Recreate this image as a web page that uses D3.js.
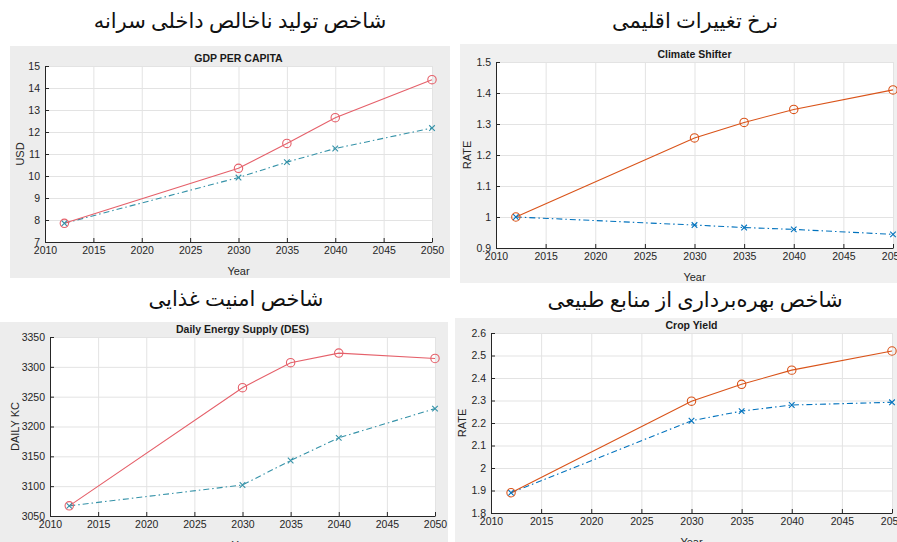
<!DOCTYPE html>
<html>
<head>
<meta charset="utf-8">
<script src="https://cdn.jsdelivr.net/npm/d3@7"></script>
<style>
  body { margin: 0; background: #fff; }
  svg { display: block; }
</style>
</head>
<body>
<div id="chart"></div>
<script>
// years with data points
const years = [2012, 2030, 2035, 2040, 2050];
const xTicks = [2010, 2015, 2020, 2025, 2030, 2035, 2040, 2045, 2050];

// GDP per capita
const gdpHigh = [7.85, 10.35, 11.48, 12.65, 14.38];
const gdpBase = [7.85, 9.93, 10.63, 11.25, 12.18];
const gdpTicks = [7, 8, 9, 10, 11, 12, 13, 14, 15];

// climate shifter
const climHigh = [1.0, 1.255, 1.305, 1.347, 1.41];
const climBase = [1.0, 0.974, 0.966, 0.96, 0.944];
const climTicks = [0.9, 1.0, 1.1, 1.2, 1.3, 1.4, 1.5];

// daily energy supply
const desHigh = [3067, 3265, 3307, 3323, 3314];
const desBase = [3067, 3102, 3143, 3181, 3230];
const desTicks = [3050, 3100, 3150, 3200, 3250, 3300, 3350];

// crop yield
const cropHigh = [1.89, 2.297, 2.372, 2.435, 2.52];
const cropBase = [1.89, 2.21, 2.253, 2.28, 2.292];
const cropTicks = [1.8, 1.9, 2.0, 2.1, 2.2, 2.3, 2.4, 2.5, 2.6];

const faTitles = [
  "شاخص تولید ناخالص داخلی سرانه",
  "نرخ تغییرات اقلیمی",
  "شاخص امنیت غذایی",
  "شاخص بهره‌برداری از منابع طبیعی"
];

const W = 897, H = 542;
const svg = d3.select('#chart').append('svg')
  .attr('width', W).attr('height', H);

const fontEn = "Liberation Sans, Arial, sans-serif";
const fontFa = "'Liberation Serif', 'DejaVu Serif', 'DejaVu Sans', serif";

const panels = [
  {bg: [10, 46, 440, 232], x0: 45, x1: 432, yTop: 66, yBot: 242,
   title: "GDP PER CAPITA", ylab: "USD", labX: 20,
   high: gdpHigh, base: gdpBase, ticks: gdpTicks, bgc: '#ededed',
   red: '#e5606a', blue: '#3592a8', fa: faTitles[0], faX: 240, faY: 28},
  {bg: [460, 44, 437, 239], x0: 496, x1: 893, yTop: 62, yBot: 248,
   title: "Climate Shifter", ylab: "RATE", labX: 467,
   high: climHigh, base: climBase, ticks: climTicks, bgc: '#f0f0f0',
   red: '#D95319', blue: '#0072BD', fa: faTitles[1], faX: 695, faY: 28},
  {bg: [0, 322, 448, 220], x0: 50, x1: 435, yTop: 337, yBot: 516,
   title: "Daily Energy Supply (DES)", ylab: "DAILY KC", labX: 15,
   high: desHigh, base: desBase, ticks: desTicks, bgc: '#ededed',
   red: '#e5606a', blue: '#3592a8', fa: faTitles[2], faX: 236, faY: 306},
  {bg: [455, 318, 442, 224], x0: 491, x1: 892, yTop: 333, yBot: 513,
   title: "Crop Yield", ylab: "RATE", labX: 462,
   high: cropHigh, base: cropBase, ticks: cropTicks, bgc: '#f0f0f0',
   red: '#D95319', blue: '#0072BD', fa: faTitles[3], faX: 695, faY: 307}
];

panels.forEach(drawPanel);

function drawPanel(p) {
  const g = svg.append('g');

  // persian heading
  svg.append('text')
    .attr('x', p.faX).attr('y', p.faY)
    .attr('text-anchor', 'middle')
    .attr('direction', 'rtl')
    .style('font-family', fontFa)
    .style('font-size', '21px')
    .attr('fill', '#111')
    .text(p.fa);

  g.append('rect')
    .attr('x', p.bg[0]).attr('y', p.bg[1])
    .attr('width', p.bg[2]).attr('height', p.bg[3])
    .attr('fill', p.bgc);

  const x = d3.scaleLinear().domain([2010, 2050]).range([p.x0, p.x1]);
  const y = d3.scaleLinear()
    .domain([p.ticks[0], p.ticks[p.ticks.length - 1]])
    .range([p.yBot, p.yTop]);

  g.append('rect')
    .attr('x', p.x0).attr('y', p.yTop)
    .attr('width', p.x1 - p.x0).attr('height', p.yBot - p.yTop)
    .attr('fill', '#fff');

  // grid
  g.append('g')
    .attr('transform', `translate(0,${p.yBot})`)
    .call(d3.axisBottom(x).tickValues(xTicks).tickSize(-(p.yBot - p.yTop)).tickFormat(''))
    .call(a => a.select('.domain').remove())
    .call(a => a.selectAll('line').attr('stroke', '#e3e3e3'));
  g.append('g')
    .attr('transform', `translate(${p.x0},0)`)
    .call(d3.axisLeft(y).tickValues(p.ticks).tickSize(-(p.x1 - p.x0)).tickFormat(''))
    .call(a => a.select('.domain').remove())
    .call(a => a.selectAll('line').attr('stroke', '#e3e3e3'));

  // axes, ticks pointing inward like matlab
  const fmt = d3.format('~g');
  const xa = g.append('g')
    .attr('transform', `translate(0,${p.yBot})`)
    .call(d3.axisBottom(x).tickValues(xTicks).tickSize(-4).tickPadding(5).tickSizeOuter(0).tickFormat(d3.format('d')));
  const ya = g.append('g')
    .attr('transform', `translate(${p.x0},0)`)
    .call(d3.axisLeft(y).tickValues(p.ticks).tickSize(-4).tickPadding(5).tickSizeOuter(0).tickFormat(fmt));
  [xa, ya].forEach(a => {
    a.select('.domain').attr('stroke', '#262626');
    a.selectAll('line').attr('stroke', '#262626');
    a.selectAll('text').attr('fill', '#262626')
      .style('font-family', fontEn).style('font-size', '10.5px');
  });

  g.append('text')
    .attr('x', (p.x0 + p.x1) / 2).attr('y', p.yBot + 33)
    .attr('text-anchor', 'middle')
    .style('font-family', fontEn).style('font-size', '11px')
    .attr('fill', '#262626').text('Year');

  g.append('text')
    .attr('transform', `translate(${p.labX + 4},${(p.yTop + p.yBot) / 2}) rotate(-90)`)
    .attr('text-anchor', 'middle')
    .style('font-family', fontEn).style('font-size', '11px')
    .attr('fill', '#262626').text(p.ylab);

  g.append('text')
    .attr('x', (p.x0 + p.x1) / 2).attr('y', p.yTop - 4)
    .attr('text-anchor', 'middle')
    .style('font-family', fontEn).style('font-size', '10.5px')
    .style('font-weight', 'bold')
    .attr('fill', '#1a1a1a').text(p.title);

  const line = d3.line().x(d => x(d[0])).y(d => y(d[1]));
  const hi = d3.zip(years, p.high);
  const lo = d3.zip(years, p.base);

  g.append('path').datum(lo)
    .attr('d', line).attr('fill', 'none')
    .attr('stroke', p.blue).attr('stroke-width', 1.1)
    .attr('stroke-dasharray', '6,3,1.5,3');
  g.append('path').datum(hi)
    .attr('d', line).attr('fill', 'none')
    .attr('stroke', p.red).attr('stroke-width', 1.1);

  g.selectAll('.cross').data(lo).enter()
    .append('path')
    .attr('transform', d => `translate(${x(d[0])},${y(d[1])})`)
    .attr('d', 'M-2.8,-2.8L2.8,2.8M-2.8,2.8L2.8,-2.8')
    .attr('stroke', p.blue).attr('stroke-width', 1.1);
  g.selectAll('.circ').data(hi).enter()
    .append('circle')
    .attr('cx', d => x(d[0])).attr('cy', d => y(d[1]))
    .attr('r', 4.2)
    .attr('fill', 'none')
    .attr('stroke', p.red).attr('stroke-width', 1.1);
}
</script>
</body>
</html>
